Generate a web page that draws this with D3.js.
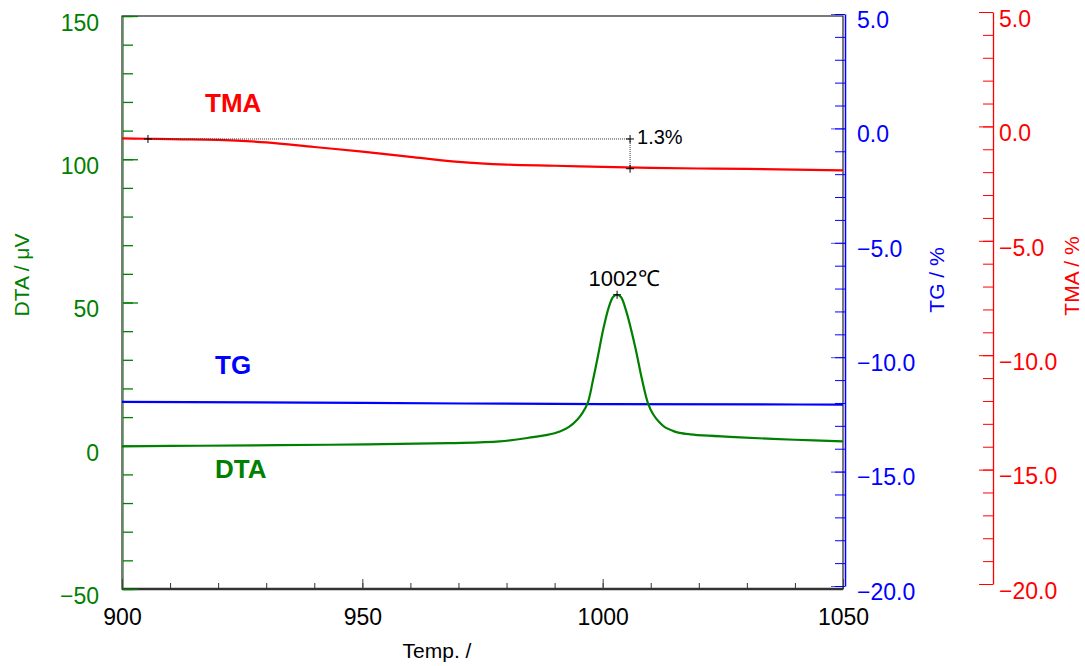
<!DOCTYPE html>
<html><head><meta charset="utf-8">
<script src="https://cdn.jsdelivr.net/npm/d3@7"></script>
<style>
html,body{margin:0;padding:0;background:#fff;}
svg{display:block;font-family:"Liberation Sans",Arial,sans-serif;}
</style></head>
<body>
<svg id="chart" width="1085" height="666"></svg>
<script>
// ---- data ----
const tmaTemp  = [900, 905, 910, 920, 930, 940, 950, 960, 970, 980, 990, 1000, 1010, 1020, 1030, 1040, 1050];
const tmaValue = [-0.52, -0.54, -0.56, -0.59, -0.70, -0.90, -1.10, -1.33, -1.55, -1.67, -1.72, -1.77, -1.81, -1.84, -1.86, -1.89, -1.92];

const tgTemp  = [900, 950, 1000, 1050];
const tgValue = [-11.95, -12.00, -12.05, -12.07];

const dtaTemp  = [900, 916, 943, 968, 978.6, 985.5, 988.5, 991.1, 993.0, 994.7, 995.8, 996.9, 998.0, 999.1, 1000.1, 1001.3, 1002.2, 1003.0, 1003.8, 1004.9, 1006.7, 1008.2, 1009.4, 1010.5, 1011.9, 1013.0, 1014.6, 1016.0, 1018.2, 1022.0, 1028.6, 1040, 1050];
const dtaValue = [-0.2, 0, 0.35, 0.9, 1.5, 3.0, 3.8, 5.0, 6.6, 9.1, 11.5, 15.0, 23, 32, 40.5, 48.5, 52.0, 52.7, 51.9, 47, 35, 23, 15.0, 11.0, 8.0, 6.4, 5.2, 4.5, 4.0, 3.5, 2.9, 2.1, 1.5];

const xTicksMajor = [900, 950, 1000, 1050];
const dtaTicksMajor = [-50, 0, 50, 100, 150];
const pctTicksMajor = [5, 0, -5, -10, -15, -20];

const peakTemp = 1003.0, peakValue = 52.7, peakLabel = "1002\u2103";
const stepStartTemp = 905.4, stepEndTemp = 1005.7, stepTop = -0.55, stepBottom = -1.85, stepLabel = "1.3%";

// ---- scales ----
const svg = d3.select("#chart");
const x = d3.scaleLinear().domain([900, 1050]).range([122, 843]);
const yDTA = d3.scaleLinear().domain([-50, 150]).range([589, 16]);
const yTG = d3.scaleLinear().domain([-20, 5]).range([586, 14]);
const yTMA = d3.scaleLinear().domain([-20, 5]).range([584, 12]);

const GREEN = "#008000", BLUE = "#0000ff", RED = "#ff0000";
const FS = "23px";
const fmtPct = d => (d < 0 ? "\u2212" : "") + Math.abs(d).toFixed(1);
const fmtInt = d => (d < 0 ? "\u2212" : "") + Math.abs(d);

// frame
svg.append("rect").attr("x", 122).attr("y", 16).attr("width", 843 - 122).attr("height", 589 - 16)
  .attr("fill", "none").attr("stroke", "#222").attr("stroke-width", 1.2);
svg.append("line").attr("x1", 122).attr("x2", 843).attr("y1", 589).attr("y2", 589)
  .attr("stroke", "#333").attr("stroke-width", 2.5);

// ---- bottom axis ----
const xMinor = d3.range(900, 1051, 10);
svg.append("g").attr("transform", "translate(0,589)")
  .call(d3.axisBottom(x).tickValues(xMinor).tickSizeInner(-6).tickSizeOuter(0).tickFormat(""))
  .call(g => g.select(".domain").remove())
  .call(g => g.selectAll("line").attr("stroke", "#333"));
svg.append("g").attr("transform", "translate(0,589)")
  .call(d3.axisBottom(x).tickValues(xTicksMajor).tickSizeInner(-10).tickSizeOuter(0).tickPadding(20).tickFormat(fmtInt))
  .call(g => g.select(".domain").remove())
  .call(g => g.selectAll("line").attr("stroke", "#444"))
  .call(g => g.selectAll("text").attr("fill", "#000").style("font-size", FS).style("font-family", "Liberation Sans, Arial, sans-serif"));

// ---- left DTA axis ----
const dtaMinor = d3.range(-50, 151, 10);
svg.append("g").attr("transform", "translate(123,0)")
  .call(d3.axisLeft(yDTA).tickValues(dtaMinor).tickSizeInner(-10).tickSizeOuter(0).tickFormat(""))
  .call(g => g.select(".domain").attr("stroke", GREEN).attr("stroke-opacity", 0.6))
  .call(g => g.selectAll("line").attr("stroke", GREEN).attr("stroke-width", 1.3));
svg.append("g").attr("transform", "translate(123,0)")
  .call(d3.axisLeft(yDTA).tickValues(dtaTicksMajor).tickSizeInner(-15).tickSizeOuter(0).tickPadding(24).tickFormat(fmtInt))
  .call(g => g.select(".domain").remove())
  .call(g => g.selectAll("line").attr("stroke", GREEN).attr("stroke-width", 1.3))
  .call(g => g.selectAll("text").attr("fill", GREEN).attr("dy", "0.62em").style("font-size", FS).style("font-family", "Liberation Sans, Arial, sans-serif"));

// ---- right TG axis ----
const pctMinor = d3.range(-20, 5.01, 1);
svg.append("g").attr("transform", "translate(845,0)")
  .call(d3.axisRight(yTG).tickValues(pctMinor).tickSizeInner(-10).tickSizeOuter(0).tickFormat(""))
  .call(g => g.select(".domain").attr("stroke", BLUE).attr("stroke-width", 1.5))
  .call(g => g.selectAll("line").attr("stroke", BLUE));
svg.append("g").attr("transform", "translate(845,0)")
  .call(d3.axisRight(yTG).tickValues(pctTicksMajor).tickSizeInner(-14).tickSizeOuter(0).tickPadding(12).tickFormat(fmtPct))
  .call(g => g.select(".domain").remove())
  .call(g => g.selectAll("line").attr("stroke", BLUE).attr("stroke-opacity", 0.7))
  .call(g => g.selectAll("text").attr("fill", BLUE).attr("dy", "0.58em").style("font-size", FS).style("font-family", "Liberation Sans, Arial, sans-serif"));

// ---- right TMA axis ----
svg.append("g").attr("transform", "translate(993,0)")
  .call(d3.axisRight(yTMA).tickValues(pctMinor).tickSizeInner(-10).tickSizeOuter(0).tickFormat(""))
  .call(g => g.select(".domain").attr("stroke", RED).attr("stroke-width", 1.3))
  .call(g => g.selectAll("line").attr("stroke", RED));
svg.append("g").attr("transform", "translate(993,0)")
  .call(d3.axisRight(yTMA).tickValues(pctTicksMajor).tickSizeInner(-14).tickSizeOuter(0).tickPadding(6).tickFormat(fmtPct))
  .call(g => g.select(".domain").remove())
  .call(g => g.selectAll("line").attr("stroke", RED))
  .call(g => g.selectAll("text").attr("fill", RED).attr("dy", "0.62em").style("font-size", FS).style("font-family", "Liberation Sans, Arial, sans-serif"));

// ---- series ----
const tmaData = tmaTemp.map((t, i) => [t, tmaValue[i]]);
const tgData = tgTemp.map((t, i) => [t, tgValue[i]]);
const dtaData = dtaTemp.map((t, i) => [t, dtaValue[i]]);

svg.append("path").datum(tgData).attr("fill", "none").attr("stroke", BLUE).attr("stroke-width", 2.2)
  .attr("d", d3.line().x(d => x(d[0])).y(d => yTG(d[1])).curve(d3.curveMonotoneX));
svg.append("path").datum(dtaData).attr("fill", "none").attr("stroke", GREEN).attr("stroke-width", 2.2)
  .attr("d", d3.line().x(d => x(d[0])).y(d => yDTA(d[1])).curve(d3.curveCatmullRom.alpha(0.5)));
svg.append("path").datum(tmaData).attr("fill", "none").attr("stroke", RED).attr("stroke-width", 2.2)
  .attr("d", d3.line().x(d => x(d[0])).y(d => yTMA(d[1])).curve(d3.curveMonotoneX));

// ---- annotations ----
const plus = (cx, cy, s) => {
  svg.append("line").attr("x1", cx - s).attr("x2", cx + s).attr("y1", cy).attr("y2", cy).attr("stroke", "#000").attr("stroke-width", 1);
  svg.append("line").attr("x1", cx).attr("x2", cx).attr("y1", cy - s).attr("y2", cy + s).attr("stroke", "#000").attr("stroke-width", 1);
};
svg.append("line").attr("x1", x(stepStartTemp)).attr("x2", x(stepEndTemp)).attr("y1", yTMA(stepTop)).attr("y2", yTMA(stepTop))
  .attr("stroke", "#333").attr("stroke-width", 1).attr("stroke-dasharray", "1,1");
svg.append("line").attr("x1", x(stepEndTemp)).attr("x2", x(stepEndTemp)).attr("y1", yTMA(stepTop)).attr("y2", yTMA(stepBottom))
  .attr("stroke", "#333").attr("stroke-width", 1).attr("stroke-dasharray", "1,1");
plus(x(stepStartTemp), yTMA(stepTop), 4);
plus(x(stepEndTemp), yTMA(stepTop), 4);
plus(x(stepEndTemp), yTMA(stepBottom), 4);
svg.append("text").attr("x", x(stepEndTemp) + 7).attr("y", yTMA(stepTop) + 5).text(stepLabel)
  .attr("fill", "#000").style("font-size", "20px");

plus(x(peakTemp), yDTA(peakValue), 4);
svg.append("text").attr("x", x(peakTemp) + 7).attr("y", yDTA(peakValue) - 9).attr("text-anchor", "middle")
  .text(peakLabel).attr("fill", "#000").style("font-size", "22px");

// series labels
svg.append("text").attr("x", 205).attr("y", 112).text("TMA").attr("fill", RED).style("font-size", "26px").style("font-weight", "bold");
svg.append("text").attr("x", 215).attr("y", 374).text("TG").attr("fill", BLUE).style("font-size", "26px").style("font-weight", "bold");
svg.append("text").attr("x", 215).attr("y", 478).text("DTA").attr("fill", GREEN).style("font-size", "26px").style("font-weight", "bold");

// axis titles
svg.append("text").attr("transform", "translate(29,275) rotate(-90)").attr("text-anchor", "middle")
  .text("DTA / \u03bcV").attr("fill", GREEN).style("font-size", "21px");
svg.append("text").attr("transform", "translate(944,280) rotate(-90)").attr("text-anchor", "middle")
  .text("TG / %").attr("fill", BLUE).style("font-size", "21px");
svg.append("text").attr("transform", "translate(1079,276) rotate(-90)").attr("text-anchor", "middle")
  .text("TMA / %").attr("fill", RED).style("font-size", "21px");
svg.append("text").attr("x", 437).attr("y", 658).attr("text-anchor", "middle")
  .text("Temp. /").attr("fill", "#000").style("font-size", "21px");
</script>
</body></html>
